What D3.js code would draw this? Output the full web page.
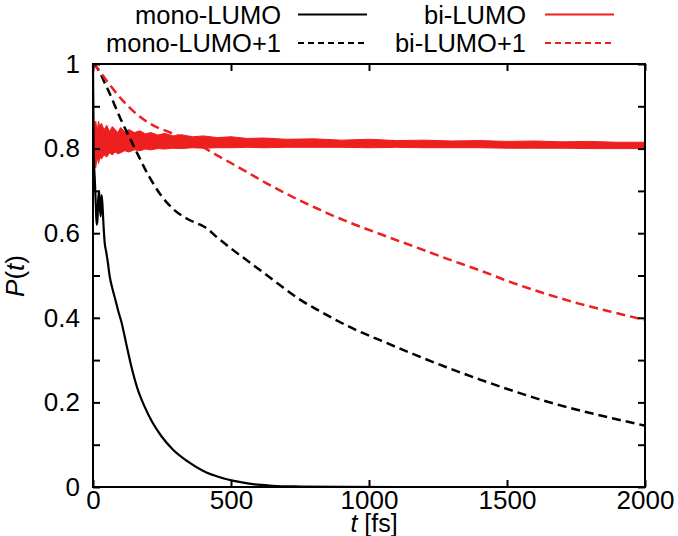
<!DOCTYPE html>
<html><head><meta charset="utf-8">
<script src="https://cdn.jsdelivr.net/npm/d3@7"></script>
<style>body{margin:0;background:#fff}</style>
</head><body><svg id="c" width="678" height="536"></svg>
<script>
// ---- data ----
const xTicks = [0, 500, 1000, 1500, 2000];
const yTicks = [0, 0.1, 0.2, 0.3, 0.4, 0.5, 0.6, 0.7, 0.8, 0.9, 1];
const yLabelled = [0, 0.2, 0.4, 0.6, 0.8, 1];

const seriesNames = ["mono-LUMO", "mono-LUMO+1", "bi-LUMO", "bi-LUMO+1"];

// mono-LUMO (solid black)
const monoLumoT = [0, 2, 4, 7, 10, 13, 16, 19, 22, 25, 28, 31, 34, 38, 42, 48, 54, 60, 70, 80, 92, 103, 120, 139, 160, 187, 215, 248, 290, 344, 400, 465, 530, 586, 650, 750, 900, 1100, 1500, 2000];
const monoLumoP = [1.0, 0.80, 0.76, 0.72, 0.67, 0.62, 0.63, 0.68, 0.70, 0.66, 0.64, 0.69, 0.67, 0.62, 0.58, 0.555, 0.53, 0.50, 0.47, 0.445, 0.415, 0.39, 0.34, 0.285, 0.235, 0.19, 0.153, 0.12, 0.088, 0.06, 0.038, 0.022, 0.012, 0.006, 0.003, 0.0012, 0.0003, 0.0, 0.0, 0.0];

// mono-LUMO+1 (dashed black)
const monoLumo1T = [0, 12, 50, 103, 152, 199, 248, 296, 344, 388, 411, 450, 508, 570, 629, 690, 750, 810, 871, 950, 1040, 1161, 1281, 1402, 1523, 1644, 1764, 1885, 2000];
const monoLumo1P = [1.0, 0.993, 0.945, 0.866, 0.80, 0.739, 0.688, 0.654, 0.633, 0.62, 0.612, 0.59, 0.56, 0.53, 0.501, 0.471, 0.443, 0.42, 0.398, 0.372, 0.347, 0.314, 0.283, 0.254, 0.227, 0.202, 0.181, 0.162, 0.145];

// bi-LUMO (solid red, fast oscillation): envelope
const biLumoT = [0, 1, 3, 6, 10, 15, 20, 25, 30, 40, 50, 60, 70, 80, 90, 100, 115, 130, 150, 170, 190, 210, 235, 260, 290, 320, 360, 400, 450, 500, 560, 620, 700, 800, 900, 1000, 1100, 1200, 1300, 1400, 1500, 1600, 1700, 1800, 1900, 2000];
const biLumoUpper = [1.0, 1.0, 0.87, 0.85, 0.865, 0.84, 0.865, 0.85, 0.86, 0.845, 0.855, 0.84, 0.852, 0.845, 0.838, 0.85, 0.84, 0.845, 0.838, 0.842, 0.835, 0.838, 0.832, 0.836, 0.83, 0.833, 0.828, 0.83, 0.826, 0.828, 0.824, 0.825, 0.822, 0.823, 0.82, 0.822, 0.819, 0.82, 0.818, 0.819, 0.817, 0.818, 0.816, 0.817, 0.815, 0.815];
const biLumoLower = [1.0, 0.76, 0.74, 0.77, 0.755, 0.78, 0.765, 0.78, 0.775, 0.785, 0.78, 0.79, 0.785, 0.792, 0.788, 0.79, 0.795, 0.792, 0.797, 0.795, 0.799, 0.797, 0.80, 0.799, 0.801, 0.80, 0.802, 0.801, 0.802, 0.802, 0.803, 0.802, 0.803, 0.803, 0.803, 0.802, 0.803, 0.802, 0.802, 0.802, 0.801, 0.801, 0.801, 0.80, 0.80, 0.80];

// bi-LUMO+1 (dashed red)
const biLumo1T = [0, 12, 50, 103, 163, 223, 272, 330, 388, 450, 508, 570, 629, 690, 750, 810, 871, 950, 1040, 1161, 1281, 1402, 1523, 1644, 1764, 1885, 2000];
const biLumo1P = [1.0, 0.993, 0.96, 0.917, 0.879, 0.853, 0.84, 0.824, 0.807, 0.784, 0.763, 0.74, 0.718, 0.697, 0.677, 0.659, 0.641, 0.62, 0.598, 0.569, 0.54, 0.512, 0.482, 0.456, 0.433, 0.413, 0.395];

// ---- layout ----
const RED = "#ee1f1f";
const svg = d3.select("#c");
const L = 93, R = 645, T = 64, B = 487;
const x = d3.scaleLinear().domain([0, 2000]).range([L, R]);
const y = d3.scaleLinear().domain([0, 1]).range([B, T]);
const font = "'Liberation Sans', Arial, Helvetica, sans-serif";
const fmt = d => String(+d.toFixed(1));

const toPts = (ts, ps) => ts.map((t, i) => [t, ps[i]]);
const line = d3.line().x(d => x(d[0])).y(d => y(d[1]));

// plot content
const g = svg.append("g");
g.append("path")
  .datum(biLumoT.map((t, i) => ({t, lo: biLumoLower[i], hi: biLumoUpper[i]})))
  .attr("d", d3.area().x(d => x(d.t)).y0(d => y(d.lo)).y1(d => y(d.hi)))
  .attr("fill", RED).attr("stroke", RED).attr("stroke-width", 1);

g.append("path").datum(toPts(monoLumoT, monoLumoP))
  .attr("d", line.curve(d3.curveMonotoneX)).attr("fill", "none")
  .attr("stroke", "#000").attr("stroke-width", 2.2);
g.append("path").datum(toPts(monoLumo1T, monoLumo1P))
  .attr("d", line.curve(d3.curveMonotoneX)).attr("fill", "none")
  .attr("stroke", "#000").attr("stroke-width", 2.5).attr("stroke-dasharray", "9,5");
g.append("path").datum(toPts(biLumo1T, biLumo1P))
  .attr("d", line.curve(d3.curveMonotoneX)).attr("fill", "none")
  .attr("stroke", RED).attr("stroke-width", 2.5).attr("stroke-dasharray", "9,5");

// axes (inward ticks, mirrored)
function styleAxis(sel) {
  sel.select(".domain").remove();
  sel.selectAll(".tick line").attr("stroke", "#000").attr("stroke-width", 2);
  sel.selectAll("text").attr("font-family", font).attr("font-size", 26).attr("fill", "#000");
}
svg.append("g").attr("transform", `translate(0,${B})`)
  .call(d3.axisBottom(x).tickValues(xTicks).tickSize(-7).tickPadding(3.5).tickFormat(d3.format("d")))
  .call(styleAxis);
svg.append("g").attr("transform", `translate(0,${T})`)
  .call(d3.axisTop(x).tickValues(xTicks).tickSize(-7).tickFormat(""))
  .call(styleAxis);
svg.append("g").attr("transform", `translate(${L},0)`)
  .call(d3.axisLeft(y).tickValues(yTicks).tickSize(-7).tickPadding(13)
    .tickFormat(d => yLabelled.some(v => Math.abs(v - d) < 1e-9) ? fmt(d) : ""))
  .call(styleAxis);
svg.append("g").attr("transform", `translate(${R},0)`)
  .call(d3.axisRight(y).tickValues(yTicks).tickSize(-7).tickFormat(""))
  .call(styleAxis);

// frame
svg.append("rect").attr("x", L).attr("y", T).attr("width", R - L).attr("height", B - T)
  .attr("fill", "none").attr("stroke", "#000").attr("stroke-width", 2);

// axis titles
const xt = svg.append("text").attr("x", 374).attr("y", 531.5).attr("text-anchor", "middle")
  .attr("font-family", font).attr("font-size", 25);
xt.append("tspan").attr("font-style", "italic").text("t");
xt.append("tspan").text(" [fs]");
const yt = svg.append("text").attr("transform", "translate(24,276) rotate(-90)").attr("text-anchor", "middle")
  .attr("font-family", font).attr("font-size", 26);
yt.append("tspan").attr("font-style", "italic").text("P");
yt.append("tspan").text("(");
yt.append("tspan").attr("font-style", "italic").text("t");
yt.append("tspan").text(")");

// legend
const legendItems = [
  {name: seriesNames[0], col: 0, row: 0, color: "#000", dash: null},
  {name: seriesNames[2], col: 1, row: 0, color: RED, dash: null},
  {name: seriesNames[1], col: 0, row: 1, color: "#000", dash: "6,4"},
  {name: seriesNames[3], col: 1, row: 1, color: RED, dash: "6,4"}
];
const colTextEnd = [281, 526], colLine = [[298, 367], [545, 614]], rowBase = [23.5, 52];
legendItems.forEach(it => {
  svg.append("text").attr("x", colTextEnd[it.col]).attr("y", rowBase[it.row])
    .attr("text-anchor", "end").attr("font-family", font).attr("font-size", 25.5).text(it.name);
  const ly = rowBase[it.row] - 9;
  svg.append("line").attr("x1", colLine[it.col][0]).attr("x2", colLine[it.col][1])
    .attr("y1", ly).attr("y2", ly).attr("stroke", it.color).attr("stroke-width", 2)
    .attr("stroke-dasharray", it.dash);
});
</script></body></html>
